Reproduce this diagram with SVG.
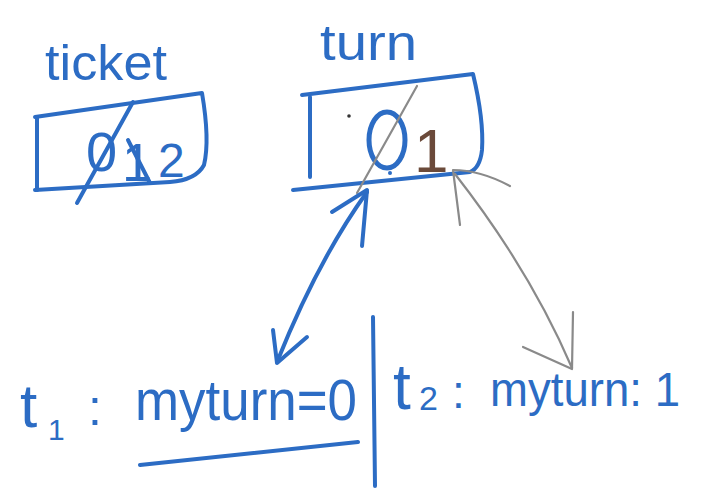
<svg xmlns="http://www.w3.org/2000/svg" width="702" height="489" viewBox="0 0 702 489">
<style>
.ink{fill:none;stroke:#2c6cc4;stroke-width:4;stroke-linecap:round;stroke-linejoin:round}
.txt{fill:#2c6cc4;font-family:"Liberation Sans","DejaVu Sans",sans-serif}
.gray{fill:none;stroke:#8a8a8a;stroke-width:2.2;stroke-linecap:round;stroke-linejoin:round}
.brown{fill:#6b4a3a;font-family:"Liberation Sans",sans-serif}
</style>
<rect width="702" height="489" fill="#ffffff"/>
<g id="ticket">
<text class="txt" x="45" y="80" font-size="50" textLength="122" lengthAdjust="spacingAndGlyphs">ticket</text>
<path class="ink" d="M35,117 L202,93 Q210,140 204,165 Q196,180 170,182 L35,190"/>
<path class="ink" d="M37,117 L37,190"/>
<text class="txt" x="86" y="171" font-size="56">0</text>
<text class="txt" x="122" y="181" font-size="54">1</text>
<text class="txt" x="158" y="177" font-size="48">2</text>
<path class="ink" d="M133,102 L77,203"/>
<path class="ink" d="M128,140 L150,183"/>
</g>
<g id="turn">
<text class="txt" x="320" y="60" font-size="50" textLength="97" lengthAdjust="spacingAndGlyphs">turn</text>
<path class="ink" d="M302,95 L473,74 Q484,120 482,150 Q480,168 470,172 L293,190"/>
<path class="ink" d="M310,97 L310,177"/>
<ellipse cx="387" cy="140" rx="18" ry="28" fill="none" stroke="#2c6cc4" stroke-width="5"/>
<text class="brown" x="414" y="172" font-size="62">1</text>
<path class="gray" d="M417,86 L357,193" stroke="#7a6a60"/>
<circle cx="349" cy="116" r="1.8" fill="#333"/>
<circle cx="390" cy="173" r="2" fill="#2c6cc4"/>
</g>
<g id="connectors">
<path class="ink" d="M367,192 Q318,260 277,362"/>
<path class="ink" d="M332,212 L367,190 L362,246"/>
<path class="ink" d="M273,330 L277,363 L307,337"/>
<path class="gray" d="M455,174 Q530,270 572,368"/>
<path class="gray" d="M510,186 Q480,170 453,170 L460,225"/>
<path class="gray" d="M523,347 L572,369 L573,312"/>
</g>
<path class="ink" d="M373,317 L375,486" stroke-width="4.5"/>
<g id="t1">
<text class="txt" x="20" y="427" font-size="62">t</text>
<text class="txt" x="48" y="440" font-size="30">1</text>
<text class="txt" x="88" y="425" font-size="50">:</text>
<text class="txt" x="135" y="420" font-size="58" textLength="222" lengthAdjust="spacingAndGlyphs">myturn=0</text>
<path class="ink" d="M140,465 L358,442"/>
</g>
<g id="t2">
<text class="txt" x="393" y="409" font-size="64">t</text>
<text class="txt" x="419" y="410" font-size="34">2</text>
<text class="txt" x="452" y="408" font-size="46">:</text>
<text class="txt" x="490" y="406" font-size="48" textLength="190" lengthAdjust="spacingAndGlyphs">myturn: 1</text>
</g>
</svg>
